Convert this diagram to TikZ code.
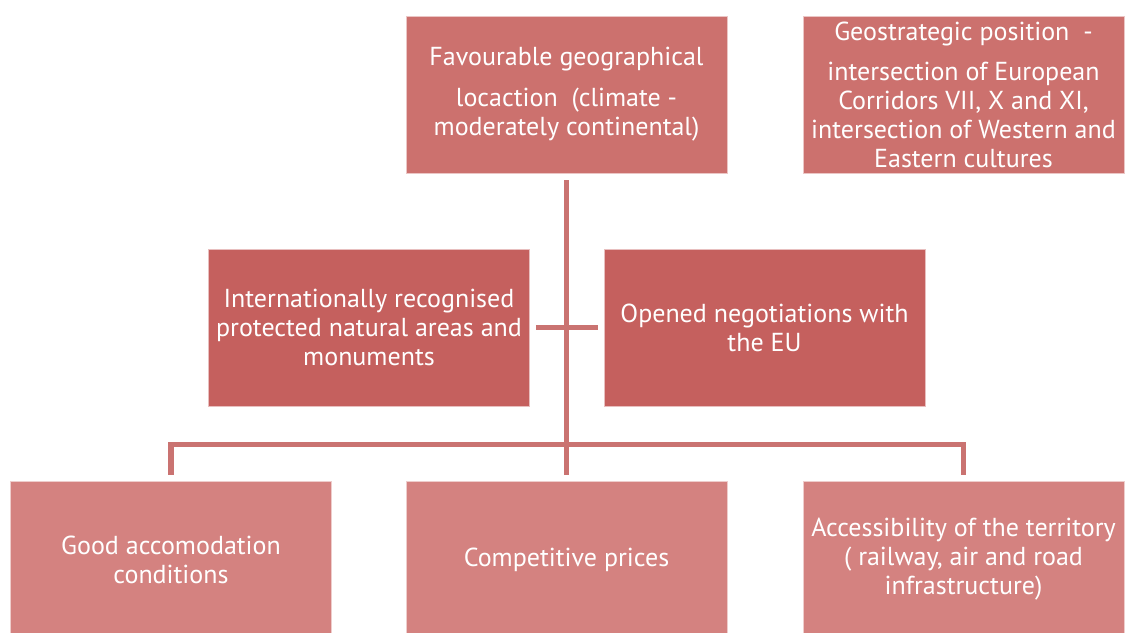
\documentclass[tikz,border=0pt]{standalone}
\usepackage{fontspec}
\setmainfont{PT Sans}
\begin{document}
\definecolor{toprose}{HTML}{CC716E}
\definecolor{midrose}{HTML}{C5605E}
\definecolor{lowrose}{HTML}{D48280}
\definecolor{linkrose}{HTML}{CA7371}
\begin{tikzpicture}[x=1pt,y=-1pt,
  card/.style={rectangle, inner sep=0pt, minimum width=321pt, minimum height=157pt,
    align=center, text=white, font=\fontsize{26}{29}\selectfont,
    draw=white!60!#1, line width=0.8pt, fill=#1},
  link/.style={draw=linkrose, line width=5.5pt}]
\useasboundingbox (0,0) rectangle (1127,632);
% upper row
\node[card=toprose] (geo) at (566.5,94.5) {Favourable geographical\\[12pt]locaction\ \ (climate -\\moderately continental)};
\node[card=toprose] (strat) at (963.5,94.5) {Geostrategic position\ \ -\\[11pt]intersection of European\\Corridors VII, X and XI,\\intersection of Western and\\Eastern cultures};
% middle row
\node[card=midrose] (nature) at (369,327.5) {Internationally recognised\\protected natural areas and\\monuments};
\node[card=midrose] (eu) at (764.5,327.5) {Opened negotiations with\\the EU};
% lower row
\node[card=lowrose] (stay) at (171,559.5) {Good accomodation\\conditions};
\node[card=lowrose] (price) at (566.5,559.5) {Competitive prices};
\node[card=lowrose] (access) at (963.5,559.5) {Accessibility of the territory\\( railway, air and road\\infrastructure)};
% connectors
\coordinate (bar) at (566.5,444.5);
\draw[link] ([yshift=-7pt]geo.south) -- ([yshift=6pt]price.north);
\draw[link] ([xshift=6pt]nature.east) -- ([xshift=-6pt]eu.west);
\draw[link, line join=miter] ([yshift=6pt]stay.north) |- (bar) -| ([yshift=6pt]access.north);
\end{tikzpicture}
\end{document}
